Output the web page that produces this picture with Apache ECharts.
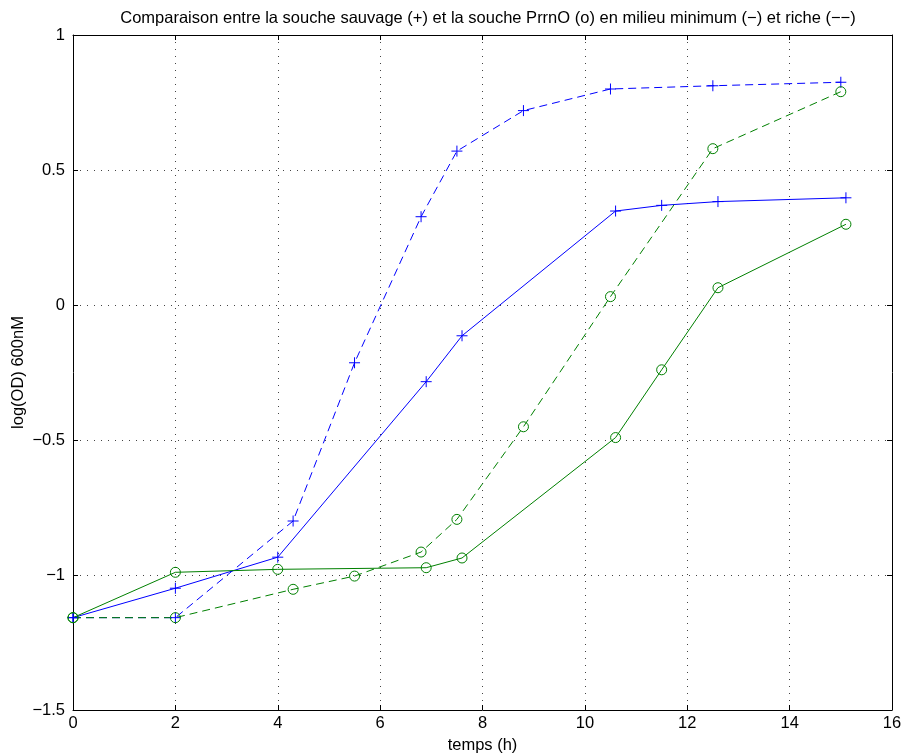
<!DOCTYPE html>
<html>
<head>
<meta charset="utf-8">
<script src="https://cdn.jsdelivr.net/npm/echarts@6/dist/echarts.min.js"></script>
<style>html,body{margin:0;padding:0;background:#fff}#c{width:905px;height:756px}</style>
</head>
<body>
<div id="c"></div>
<script>
// Data
var xTicks = [0, 2, 4, 6, 8, 10, 12, 14, 16];
var yTicks = [-1.5, -1, -0.5, 0, 0.5, 1];

var tRiche = [0, 2, 4.3, 5.5, 6.8, 7.5, 8.8, 10.5, 12.5, 15];
var sauvageRiche = [-1.158, -1.158, -0.80, -0.214, 0.327, 0.570, 0.720, 0.800, 0.812, 0.825];
var prrnORiche = [-1.158, -1.158, -1.053, -1.004, -0.915, -0.794, -0.451, 0.031, 0.579, 0.790];

var tMin = [0, 2, 4, 6.9, 7.6, 10.6, 11.5, 12.6, 15.1];
var sauvageMin = [-1.158, -1.049, -0.934, -0.284, -0.114, 0.348, 0.369, 0.383, 0.397];
var prrnOMin = [-1.158, -0.990, -0.979, -0.973, -0.937, -0.491, -0.240, 0.064, 0.299];

var titleText = 'Comparaison entre la souche sauvage (+) et la souche PrrnO (o) en milieu minimum (\u2212) et riche (\u2212\u2212)';
var xName = 'temps (h)';
var yName = 'log(OD) 600nM';

function pairs(xs, ys) { return xs.map(function (x, i) { return [x, ys[i]]; }); }

var BLUE = '#0000ff', GREEN = '#008000';
var FONT = '"Liberation Sans", Arial, Helvetica, sans-serif';
var FS = 16.5;
var plusPath = 'path://M0,5L10,5M5,0L5,10';

function mkSeries(name, xs, ys, color, dashed, marker) {
  return {
    name: name, type: 'line', data: pairs(xs, ys),
    showSymbol: true, showAllSymbol: true,
    symbol: marker === '+' ? plusPath : 'circle',
    symbolSize: marker === '+' ? 11 : 10,
    itemStyle: { color: 'rgba(0,0,0,0)', borderColor: color, borderWidth: 1 },
    lineStyle: { color: color, width: 1, type: dashed ? [8, 5] : 'solid' },
    emphasis: { disabled: true },
    z: 3
  };
}

function minus(v) { return String(v).replace('-', '\u2212'); }

var gridLine = { show: true, lineStyle: { color: '#444', width: 1, type: [1, 6] } };
var axisLine = { show: true, onZero: false, lineStyle: { color: '#000', width: 1 } };
var tick = { show: true, inside: true, length: 5, lineStyle: { color: '#000' } };

var chart = echarts.init(document.getElementById('c'));
chart.setOption({
  animation: false,
  backgroundColor: '#fff',
  title: {
    text: titleText, left: 483, top: 5, textAlign: 'center',
    textStyle: { fontFamily: FONT, fontSize: FS, fontWeight: 'normal', color: '#000' }
  },
  grid: { left: 73, right: 13, top: 35, bottom: 46, show: false, containLabel: false, outerBoundsMode: 'none' },
  xAxis: [{
    type: 'value', min: xTicks[0], max: xTicks[xTicks.length - 1], interval: 2,
    name: xName, nameLocation: 'middle', nameGap: 27, nameMoveOverlap: false,
    nameTextStyle: { fontFamily: FONT, fontSize: FS, color: '#000' },
    axisLine: axisLine, axisTick: tick, splitLine: gridLine,
    axisLabel: { fontFamily: FONT, fontSize: FS, color: '#000', margin: 5, formatter: minus }
  }, {
    type: 'value', position: 'top', min: xTicks[0], max: xTicks[xTicks.length - 1], interval: 2,
    axisLine: axisLine, axisTick: tick, splitLine: { show: false }, axisLabel: { show: false }
  }],
  yAxis: [{
    type: 'value', min: yTicks[0], max: yTicks[yTicks.length - 1], interval: 0.5,
    name: yName, nameLocation: 'middle', nameGap: 46, nameRotate: 90, nameMoveOverlap: false,
    nameTextStyle: { fontFamily: FONT, fontSize: FS, color: '#000' },
    axisLine: axisLine, axisTick: tick, splitLine: gridLine,
    axisLabel: { fontFamily: FONT, fontSize: FS, color: '#000', margin: 8, formatter: minus }
  }, {
    type: 'value', position: 'right', min: yTicks[0], max: yTicks[yTicks.length - 1], interval: 0.5,
    axisLine: axisLine, axisTick: tick, splitLine: { show: false }, axisLabel: { show: false }
  }],
  series: [
    mkSeries('sauvage riche', tRiche, sauvageRiche, BLUE, true, '+'),
    mkSeries('sauvage minimum', tMin, sauvageMin, BLUE, false, '+'),
    mkSeries('PrrnO riche', tRiche, prrnORiche, GREEN, true, 'o'),
    mkSeries('PrrnO minimum', tMin, prrnOMin, GREEN, false, 'o')
  ]
});
</script>
</body>
</html>
